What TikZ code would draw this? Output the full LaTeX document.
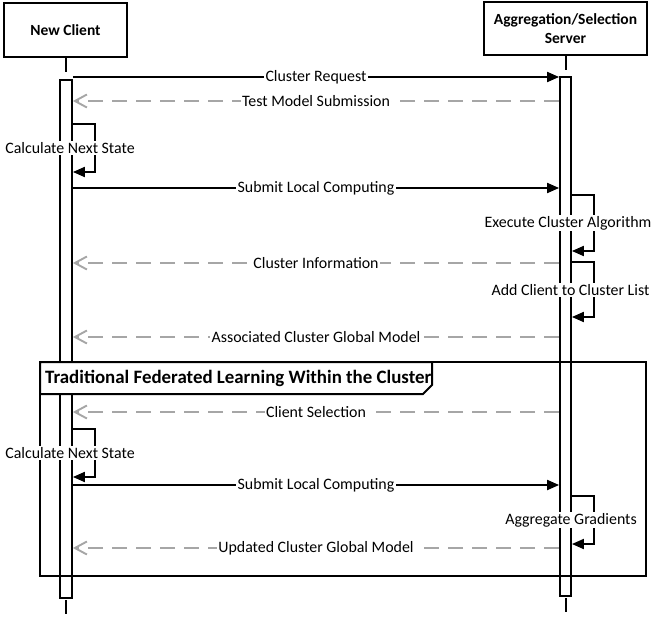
\documentclass[tikz,border=0pt]{standalone}
\usepackage{fontspec}
\setmainfont{Carlito}
\usetikzlibrary{arrows.meta}
\definecolor{dgray}{HTML}{A6A6A6}
\begin{document}
\begin{tikzpicture}[x=1pt,y=-1pt,
  every node/.style={font=\fontsize{15.9}{17}\selectfont},
  lifebox/.style={draw, line width=2pt, align=center, font=\fontsize{15.5}{19}\selectfont\bfseries, inner sep=0pt},
  bar/.style={draw, line width=1.8pt, fill=white, inner sep=0pt, minimum width=12pt},
  lifeline/.style={line width=1.8pt},
  syncmsg/.style={line width=1.9pt, -{Triangle[length=12pt,width=10pt]}},
  retmsg/.style={line width=1.9pt, dgray, dash pattern=on 15pt off 9pt, -{Straight Barb[length=12pt,width=13pt]}},
  lbl/.style={fill=white, inner sep=1.5pt, text=black},
  framestyle/.style={line width=2pt},
]
\useasboundingbox (0,0) rectangle (652,616);

% lifeline heads
\node[lifebox, minimum width=123pt, minimum height=54pt] (client) at (65.5,30) {New Client};
\node[lifebox, minimum width=163pt, minimum height=53pt] (server) at (565.5,28.5) {Aggregation/Selection\\Server};

% activation bars
\node[bar, minimum height=518pt] (cbar) at (66,339) {};
\node[bar, minimum width=11pt, minimum height=519pt] (sbar) at (565.5,336.5) {};

% lifeline stubs
\coordinate (ctop) at (66,72);
\coordinate (stop) at (566,70);
\coordinate (cbot1) at (66,600);
\coordinate (cbot2) at (66,614);
\coordinate (sbot1) at (566,598);
\coordinate (sbot2) at (566,612);
\draw[lifeline] (client.south -| ctop) -- (ctop);
\draw[lifeline] (server.south -| stop) -- (stop);
\draw[lifeline] (cbot1) -- (cbot2);
\draw[lifeline] (sbot1) -- (sbot2);

% combined fragment frame
\draw[framestyle] (40,362) rectangle (646,576);
\draw[framestyle, fill=white] (40,362) -- (432,362) -- (432,385) -- (423,394) -- (40,394) -- cycle;
\node[anchor=west, font=\fontsize{18.9}{20}\selectfont\bfseries, inner sep=0pt] (frametitle) at (45,378) {Traditional Federated Learning Within the Cluster};

% messages
\draw[syncmsg] (cbar.east |- 0,77) -- node[lbl]{Cluster Request} (sbar.west |- 0,77);
\draw[retmsg] (sbar.west |- 0,101) -- node[lbl]{Test Model Submission} (cbar.east |- 0,101);
\draw[syncmsg] (cbar.east |- 0,124) -- (95,124) -- (95,172) -- (cbar.east |- 0,172);
\node[lbl] (calc1) at (70,148) {Calculate Next State};
\draw[syncmsg] (cbar.east |- 0,188) -- node[lbl]{Submit Local Computing} (sbar.west |- 0,188);
\draw[syncmsg] (sbar.east |- 0,195) -- (594,195) -- (594,251) -- (sbar.east |- 0,251);
\node[lbl, inner xsep=0.5pt] (exec) at (568,223) {Execute Cluster Algorithm};
\draw[retmsg] (sbar.west |- 0,263) -- node[lbl]{Cluster Information} (cbar.east |- 0,263);
\draw[syncmsg] (sbar.east |- 0,262) -- (594,262) -- (594,317) -- (sbar.east |- 0,317);
\node[lbl] (addc) at (570.5,290) {Add Client to Cluster List};
\draw[retmsg] (sbar.west |- 0,337) -- node[lbl]{Associated Cluster Global Model} (cbar.east |- 0,337);

\draw[retmsg] (sbar.west |- 0,412) -- node[lbl]{Client Selection} (cbar.east |- 0,412);
\draw[syncmsg] (cbar.east |- 0,429) -- (95,429) -- (95,477) -- (cbar.east |- 0,477);
\node[lbl] (calc2) at (70,453) {Calculate Next State};
\draw[syncmsg] (cbar.east |- 0,485) -- node[lbl]{Submit Local Computing} (sbar.west |- 0,485);
\draw[syncmsg] (sbar.east |- 0,496) -- (594,496) -- (594,544) -- (sbar.east |- 0,544);
\node[lbl] (aggr) at (571,520) {Aggregate Gradients};
\draw[retmsg] (sbar.west |- 0,548) -- node[lbl]{Updated Cluster Global Model} (cbar.east |- 0,548);
\end{tikzpicture}
\end{document}
